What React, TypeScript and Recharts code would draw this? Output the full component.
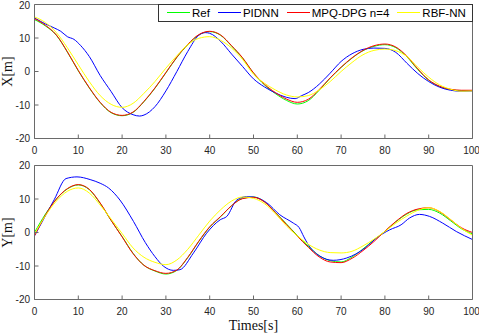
import React from 'react';
import { LineChart, Line, XAxis, YAxis } from 'recharts';

// ---------- data ----------
const TIME = [0, 2.5, 5, 7.5, 10, 12.5, 15, 17.5, 20, 22.5, 25, 27.5, 30, 32.5, 35, 37.5, 40, 42.5, 45, 47.5, 50, 52.5, 55, 57.5, 60, 62.5, 65, 67.5, 70, 72.5, 75, 77.5, 80, 82.5, 85, 87.5, 90, 92.5, 95, 97.5, 100];

const X_REF = [15.5, 13.6, 10.8, 5.8, 0.2, -4.9, -9.3, -12.3, -13.2, -12.2, -9.0, -5.0, -0.4, 4.2, 8.0, 10.9, 11.9, 10.8, 7.6, 4.0, -0.5, -4.0, -6.6, -8.6, -9.7, -8.7, -5.6, -2.0, 1.2, 4.0, 6.2, 7.5, 8.0, 7.1, 4.4, 0.6, -2.6, -4.5, -5.4, -5.7, -5.7];
const X_MPQ = [15.8, 13.8, 10.9, 5.9, 0.3, -4.8, -9.2, -12.2, -13.1, -12.1, -8.9, -4.9, -0.3, 4.3, 8.1, 11.0, 12.0, 10.9, 7.7, 4.1, -0.4, -3.8, -6.3, -8.2, -9.2, -8.3, -5.4, -1.9, 1.3, 4.1, 6.3, 7.7, 8.2, 7.3, 4.6, 0.8, -2.5, -4.4, -5.3, -5.6, -5.6];
const X_RBF = [16.3, 14.6, 11.6, 7.1, 2.0, -3.0, -7.2, -9.8, -10.7, -9.5, -6.5, -3.0, 1.0, 4.7, 8.0, 9.9, 10.4, 9.3, 7.0, 3.6, -0.8, -3.5, -5.5, -7.0, -7.6, -7.2, -5.5, -3.0, 0.0, 2.7, 5.0, 6.3, 6.7, 6.2, 4.5, 1.3, -1.7, -4.0, -5.3, -5.9, -5.8];

const T_PID_X = [0, 2.5, 4.5, 6, 7.5, 9, 10.5, 12.5, 15, 17.5, 20, 22.5, 24, 25, 27.5, 30, 32.5, 35, 37.5, 39, 40, 42.5, 45, 47.5, 50, 52.5, 55, 57.5, 59.5, 61, 62.5, 65, 67.5, 70, 72.5, 75, 77.5, 80, 82.5, 85, 87.5, 90, 92.5, 95, 97.5, 100];
const X_PID = [16.0, 14.2, 13.0, 12.0, 10.4, 9.6, 7.8, 4.5, -1.2, -6.0, -10.8, -12.9, -13.3, -13.0, -10.5, -5.8, 0.0, 6.0, 10.8, 11.6, 11.4, 9.0, 5.2, 1.5, -2.2, -4.6, -6.4, -7.7, -8.1, -7.2, -6.3, -3.8, -0.5, 3.0, 5.3, 6.6, 7.0, 6.9, 5.7, 2.5, -0.6, -3.0, -4.7, -5.6, -5.9, -5.8];

const Y_REF = [0.0, 5.5, 10.0, 13.0, 14.2, 12.8, 8.7, 3.6, -1.2, -6.2, -9.8, -11.5, -12.4, -11.3, -7.5, -2.7, 1.6, 4.7, 8.0, 10.2, 10.6, 9.2, 6.0, 2.6, -0.9, -4.1, -6.9, -8.4, -8.8, -7.3, -4.9, -2.2, 0.3, 3.2, 5.5, 6.8, 6.9, 5.8, 3.5, 1.1, -0.4];
const Y_MPQ = [-1.0, 5.2, 10.0, 13.1, 14.3, 12.9, 8.8, 3.6, -1.3, -6.3, -9.8, -11.4, -12.2, -11.2, -7.4, -2.6, 1.7, 4.8, 8.0, 10.1, 10.5, 9.1, 5.9, 2.4, -1.1, -4.4, -7.3, -8.8, -9.0, -7.7, -5.4, -2.7, 0.4, 3.3, 5.7, 7.0, 7.4, 6.2, 3.8, 1.4, 0.0];
const Y_RBF = [-0.5, 5.0, 9.4, 12.3, 13.3, 11.8, 8.2, 4.0, -0.3, -4.6, -7.4, -8.9, -9.6, -8.2, -5.0, -0.8, 3.4, 6.8, 9.4, 10.6, 10.2, 8.6, 5.6, 2.0, -1.0, -3.5, -5.2, -6.0, -6.1, -5.6, -4.0, -2.0, 0.3, 2.8, 4.9, 6.6, 7.4, 6.3, 3.9, 1.2, -0.8];

const T_PID_Y = [0, 2.5, 4.5, 7.2, 9.7, 12.7, 15, 16.9, 19.5, 22.6, 25.3, 27.5, 29.5, 31.7, 33.2, 36.3, 39.3, 42.4, 43.9, 46.2, 48.4, 50, 53, 56, 59.1, 60.4, 61.5, 62.3, 65.2, 68.2, 71.3, 75.5, 78, 81.1, 83.7, 85.6, 87.9, 90.2, 93.2, 96.3, 100];
const Y_PID = [-1.0, 5.0, 9.8, 16.1, 16.6, 15.8, 14.7, 13.3, 9.7, 3.3, -3.0, -7.2, -10.1, -11.3, -11.1, -6.1, -0.2, 3.8, 4.8, 9.7, 10.7, 10.6, 8.9, 5.3, 2.8, 1.5, -1.3, -3.2, -7.1, -8.3, -7.6, -4.6, -1.7, 0.8, 2.3, 4.3, 5.4, 4.8, 2.8, 0.3, -2.1];

const X_TICKS = [0, 10, 20, 30, 40, 50, 60, 70, 80, 90, 100];
const Y_TICKS = [-20, -10, 0, 10, 20];

const SERIES = [
  { name: 'Ref', color: '#00ff00' },
  { name: 'PIDNN', color: '#0000ff' },
  { name: 'MPQ-DPG n=4', color: '#ff0000' },
  { name: 'RBF-NN', color: '#ffff00' },
];

const rows = (times: number[], vals: number[]) => times.map((t, i) => ({ t, v: vals[i] }));

// ---------- styles ----------
const SANS = '"Liberation Sans", Arial, Helvetica, sans-serif';
const SERIF = '"Liberation Serif", "Times New Roman", serif';
const AX = '#6a6a6a';
const tickStyle = { fontSize: 10, fill: '#262626', fontFamily: SANS };

const LegendBox = () => (
  <div
    style={{
      position: 'absolute',
      left: 158,
      top: 3.5,
      width: 315,
      height: 18,
      boxSizing: 'border-box',
      border: '1px solid #333',
      background: '#fff',
      display: 'flex',
      alignItems: 'center',
      paddingLeft: 8,
      fontFamily: SANS,
      fontSize: 11.5,
      color: '#000',
      whiteSpace: 'nowrap',
    }}
  >
    {SERIES.map((s) => (
      <div key={s.name} style={{ display: 'flex', alignItems: 'center', marginRight: 8 }}>
        <span style={{ display: 'inline-block', width: 23, height: 0, borderTop: `1px solid ${s.color}`, marginRight: 2 }} />
        <span>{s.name}</span>
      </div>
    ))}
  </div>
);

const yLabel = (text: string) => (props: any) => {
  const vb = props.viewBox || { x: 0, y: 0, width: 35, height: 134 };
  const cx = vb.x + 11.5;
  const cy = vb.y + vb.height / 2;
  return (
    <text x={cx} y={cy} transform={`rotate(-90, ${cx}, ${cy})`} textAnchor="middle" fontFamily={SERIF} fontSize={14} fill="#111">
      {text}
    </text>
  );
};

const xLabel = (text: string) => (props: any) => {
  const vb = props.viewBox || { x: 34.5, y: 139.5, width: 438, height: 35 };
  return (
    <text x={vb.x + vb.width / 2} y={vb.y + 30.5} textAnchor="middle" fontFamily={SERIF} fontSize={14} fill="#111">
      {text}
    </text>
  );
};

type PanelProps = {
  height: number;
  top: number;
  bottomAxisHeight: number;
  ref_: { t: number; v: number }[];
  pid: { t: number; v: number }[];
  mpq: { t: number; v: number }[];
  rbf: { t: number; v: number }[];
  yName: string;
  xName?: string;
};

const Panel = ({ height, top, bottomAxisHeight, ref_, pid, mpq, rbf, yName, xName }: PanelProps) => (
  <LineChart width={479} height={height} margin={{ top, right: 5.5, bottom: 0, left: 0 }}>
    <XAxis
      dataKey="t"
      type="number"
      domain={[0, 100]}
      ticks={X_TICKS}
      tickSize={-4}
      tickMargin={12.4}
      height={bottomAxisHeight}
      tick={tickStyle}
      stroke={AX}
      axisLine={{ stroke: AX }}
      tickLine={{ stroke: AX }}
      allowDataOverflow
      label={xName ? { content: xLabel(xName) } : undefined}
    />
    <XAxis
      xAxisId="top"
      orientation="top"
      type="number"
      domain={[0, 100]}
      ticks={X_TICKS}
      tickSize={-4}
      height={1}
      tickFormatter={() => ''}
      stroke={AX}
      axisLine={{ stroke: AX }}
      tickLine={{ stroke: AX }}
    />
    <YAxis
      type="number"
      domain={[-20, 20]}
      ticks={Y_TICKS}
      tickSize={-4}
      tickMargin={8.5}
      width={34.5}
      tick={tickStyle}
      stroke={AX}
      axisLine={{ stroke: AX }}
      tickLine={{ stroke: AX }}
      allowDataOverflow
      label={{ content: yLabel(yName) }}
    />
    <YAxis
      yAxisId="right"
      orientation="right"
      type="number"
      domain={[-20, 20]}
      ticks={Y_TICKS}
      tickSize={-4}
      width={1}
      tickFormatter={() => ''}
      stroke={AX}
      axisLine={{ stroke: AX }}
      tickLine={{ stroke: AX }}
    />
    <Line data={ref_} dataKey="v" name="Ref" type="monotone" stroke="#00ff00" strokeWidth={1} dot={false} isAnimationActive={false} />
    <Line data={pid} dataKey="v" name="PIDNN" type="monotone" stroke="#0000ff" strokeWidth={1} dot={false} isAnimationActive={false} />
    <Line data={mpq} dataKey="v" name="MPQ-DPG n=4" type="monotone" stroke="#ff0000" strokeWidth={1} dot={false} isAnimationActive={false} />
    <Line data={rbf} dataKey="v" name="RBF-NN" type="monotone" stroke="#ffff00" strokeWidth={1} dot={false} isAnimationActive={false} />
  </LineChart>
);

export default function App() {
  return (
    <div style={{ position: 'absolute', left: 0, top: 0, width: 479, height: 335, background: '#fff', overflow: 'hidden' }}>
      <div style={{ position: 'absolute', left: 0, top: 0 }}>
        <Panel
          height={160}
          top={3.5}
          bottomAxisHeight={21.5}
          ref_={rows(TIME, X_REF)}
          pid={rows(T_PID_X, X_PID)}
          mpq={rows(TIME, X_MPQ)}
          rbf={rows(TIME, X_RBF)}
          yName="X[m]"
        />
      </div>
      <LegendBox />
      <div style={{ position: 'absolute', left: 0, top: 160 }}>
        <Panel
          height={175}
          top={4.5}
          bottomAxisHeight={35.5}
          ref_={rows(TIME, Y_REF)}
          pid={rows(T_PID_Y, Y_PID)}
          mpq={rows(TIME, Y_MPQ)}
          rbf={rows(TIME, Y_RBF)}
          yName="Y[m]"
          xName="Times[s]"
        />
      </div>
    </div>
  );
}
